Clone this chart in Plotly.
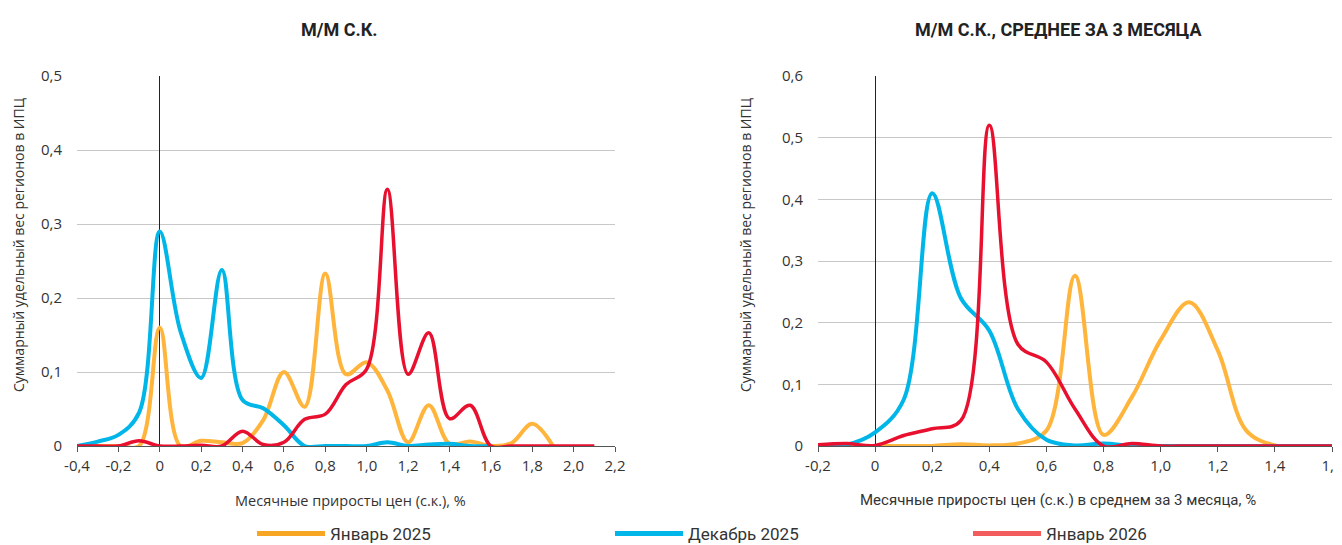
import plotly.graph_objects as go

# левая панель: м/м с.к.
x_mm = [-0.4, -0.3, -0.2, -0.1, 0.0, 0.1, 0.2, 0.3, 0.4, 0.5, 0.6, 0.7, 0.8,
        0.9, 1.0, 1.1, 1.2, 1.3, 1.4, 1.5, 1.6, 1.7, 1.8, 1.9, 2.0, 2.1]
jan25_mm = [0, 0, 0, 0, 0.16, 0, 0.007, 0.005, 0.004, 0.035, 0.1, 0.053, 0.233,
            0.097, 0.113, 0.075, 0.005, 0.055, 0.003, 0.006, 0, 0.004, 0.03, 0, None, None]
dec25_mm = [0, 0.006, 0.015, 0.045, 0.29, 0.155, 0.092, 0.238, 0.062, 0.051, 0.028, 0, 0,
            0, 0, 0.005, 0, 0.002, 0.003, 0, 0, None, None, None, None, None]
jan26_mm = [0, 0, 0, 0.007, 0, 0, 0.001, 0, 0.02, 0.002, 0.005, 0.036, 0.043,
            0.083, 0.104, 0.347, 0.097, 0.153, 0.037, 0.055, 0, 0, 0, 0, 0, 0]

# правая панель: в среднем за 3 месяца
x_3m = [-0.2, -0.1, 0.0, 0.1, 0.2, 0.3, 0.4, 0.5, 0.6, 0.7, 0.8,
        0.9, 1.0, 1.1, 1.2, 1.3, 1.4, 1.5, 1.6]
jan25_3m = [0, 0, 0, 0, 0, 0.003, 0.001, 0.004, 0.025, 0.276, 0.018,
            0.08, 0.172, 0.233, 0.155, 0.025, 0.001, 0, 0]
dec25_3m = [0, 0.002, 0.022, 0.075, 0.41, 0.24, 0.187, 0.06, 0.01, 0.001, 0.004,
            0, 0, 0, 0, 0, 0, 0, 0]
jan26_3m = [0.002, 0.004, 0.001, 0.017, 0.028, 0.041, 0.52, 0.165, 0.136, 0.06, 0,
            0.004, 0, 0, 0, 0, 0, 0, 0]

names = ['Январь 2025', 'Декабрь 2025', 'Январь 2026']
colors = ['#FFB43C', '#00B6E8', '#E8102E']
legend_colors = ['#F6A623', '#00B6E8', '#F25C5C']
widths = [4, 4, 3.5]

xt_left = [-0.4, -0.2, 0, 0.2, 0.4, 0.6, 0.8, 1.0, 1.2, 1.4, 1.6, 1.8, 2.0, 2.2]
xt_left_txt = ['-0,4', '-0,2', '0', '0,2', '0,4', '0,6', '0,8', '1,0', '1,2', '1,4',
               '1,6', '1,8', '2,0', '2,2']
xt_right = [-0.2, 0, 0.2, 0.4, 0.6, 0.8, 1.0, 1.2, 1.4, 1.6]
xt_right_txt = ['-0,2', '0', '0,2', '0,4', '0,6', '0,8', '1,0', '1,2', '1,4', '1,6']
yt_left = [0, 0.1, 0.2, 0.3, 0.4, 0.5]
yt_left_txt = ['0', '0,1', '0,2', '0,3', '0,4', '0,5']
yt_right = [0, 0.1, 0.2, 0.3, 0.4, 0.5, 0.6]
yt_right_txt = ['0', '0,1', '0,2', '0,3', '0,4', '0,5', '0,6']

W, H = 1334, 537  # страница даёт отступ 8px

fig = go.Figure()

for i, ys in enumerate([jan25_mm, dec25_mm, jan26_mm]):
    fig.add_trace(go.Scatter(x=x_mm, y=ys, mode='lines', name=names[i],
                             line=dict(color=colors[i], width=widths[i], shape='spline', smoothing=1),
                             xaxis='x', yaxis='y', showlegend=False))
for i, ys in enumerate([jan25_3m, dec25_3m, jan26_3m]):
    fig.add_trace(go.Scatter(x=x_3m, y=ys, mode='lines', name=names[i],
                             line=dict(color=colors[i], width=widths[i], shape='spline', smoothing=1),
                             xaxis='x2', yaxis='y2', showlegend=False))
# легенда
for i in range(3):
    fig.add_trace(go.Scatter(x=[None], y=[None], mode='lines', name=names[i],
                             line=dict(color=legend_colors[i], width=5), showlegend=True))

tick_font = dict(family='Open Sans, sans-serif', size=15, color='#333333')
ax_common = dict(showgrid=False, showline=True, linecolor='#555555', linewidth=1,
                 ticks='outside', ticklen=5, tickcolor='#555555', tickfont=tick_font,
                 ticklabelstandoff=1, ticklabeloverflow='allow',
                 zeroline=True, zerolinecolor='#222222', zerolinewidth=1)
ay_common = dict(showgrid=True, gridcolor='#c8c8c8', gridwidth=1, showline=False,
                 zeroline=False, ticks='', tickfont=tick_font, ticklabelstandoff=14)

fig.update_layout(
    width=W, height=H,
    margin=dict(l=0, r=0, t=68, b=99, autoexpand=False),
    paper_bgcolor='white', plot_bgcolor='white',
    font=dict(family='Open Sans, sans-serif', color='#333333'),
    xaxis=dict(domain=[69 / W, 607 / W], range=[-0.4, 2.2], tickvals=xt_left,
               ticktext=xt_left_txt, anchor='y', **ax_common),
    yaxis=dict(domain=[0, 1], range=[0, 0.5], tickvals=yt_left, ticktext=yt_left_txt,
               anchor='x', **ay_common),
    xaxis2=dict(domain=[810 / W, 1324 / W], range=[-0.2, 1.6], tickvals=xt_right,
                ticktext=xt_right_txt, anchor='y2', **ax_common),
    yaxis2=dict(domain=[0, 1], range=[0, 0.6], tickvals=yt_right, ticktext=yt_right_txt,
                anchor='x2', **ay_common),
    legend=dict(orientation='h', x=244 / W, xanchor='left', y=-0.238, yanchor='middle',
                itemwidth=68, entrywidth=275, entrywidthmode='pixels',
                font=dict(family='Roboto, sans-serif', size=17, color='#333333')),
    showlegend=True,
)

title_font = dict(family='Roboto, sans-serif', size=18, color='#222222')
axis_font = dict(family='Open Sans, sans-serif', size=14, color='#333333')
annots = [
    dict(text='<b>М/М С.К.</b>', x=331 / W, y=416 / 370, font=title_font),
    dict(text='<b>М/М С.К., СРЕДНЕЕ ЗА 3 МЕСЯЦА</b>', x=1050 / W, y=416 / 370, font=title_font),
    dict(text='Месячные приросты цен (с.к.), %', x=342 / W, y=-54 / 370,
         font=dict(family='Open Sans, sans-serif', size=14.5, color='#333333')),
    dict(text='Месячные приросты цен (с.к.) в среднем за 3 месяца, %', x=1050 / W, y=-54 / 370,
         font=dict(family='Roboto, sans-serif', size=15, color='#333333')),
    dict(text='Суммарный удельный вес регионов в ИПЦ', x=10 / W, y=201 / 370,
         textangle=-90, font=axis_font),
    dict(text='Суммарный удельный вес регионов в ИПЦ', x=737 / W, y=201 / 370,
         textangle=-90, font=axis_font),
]
for a in annots:
    fig.add_annotation(xref='paper', yref='paper', showarrow=False,
                       xanchor='center', yanchor='middle', **a)

fig.write_html("out.html")
